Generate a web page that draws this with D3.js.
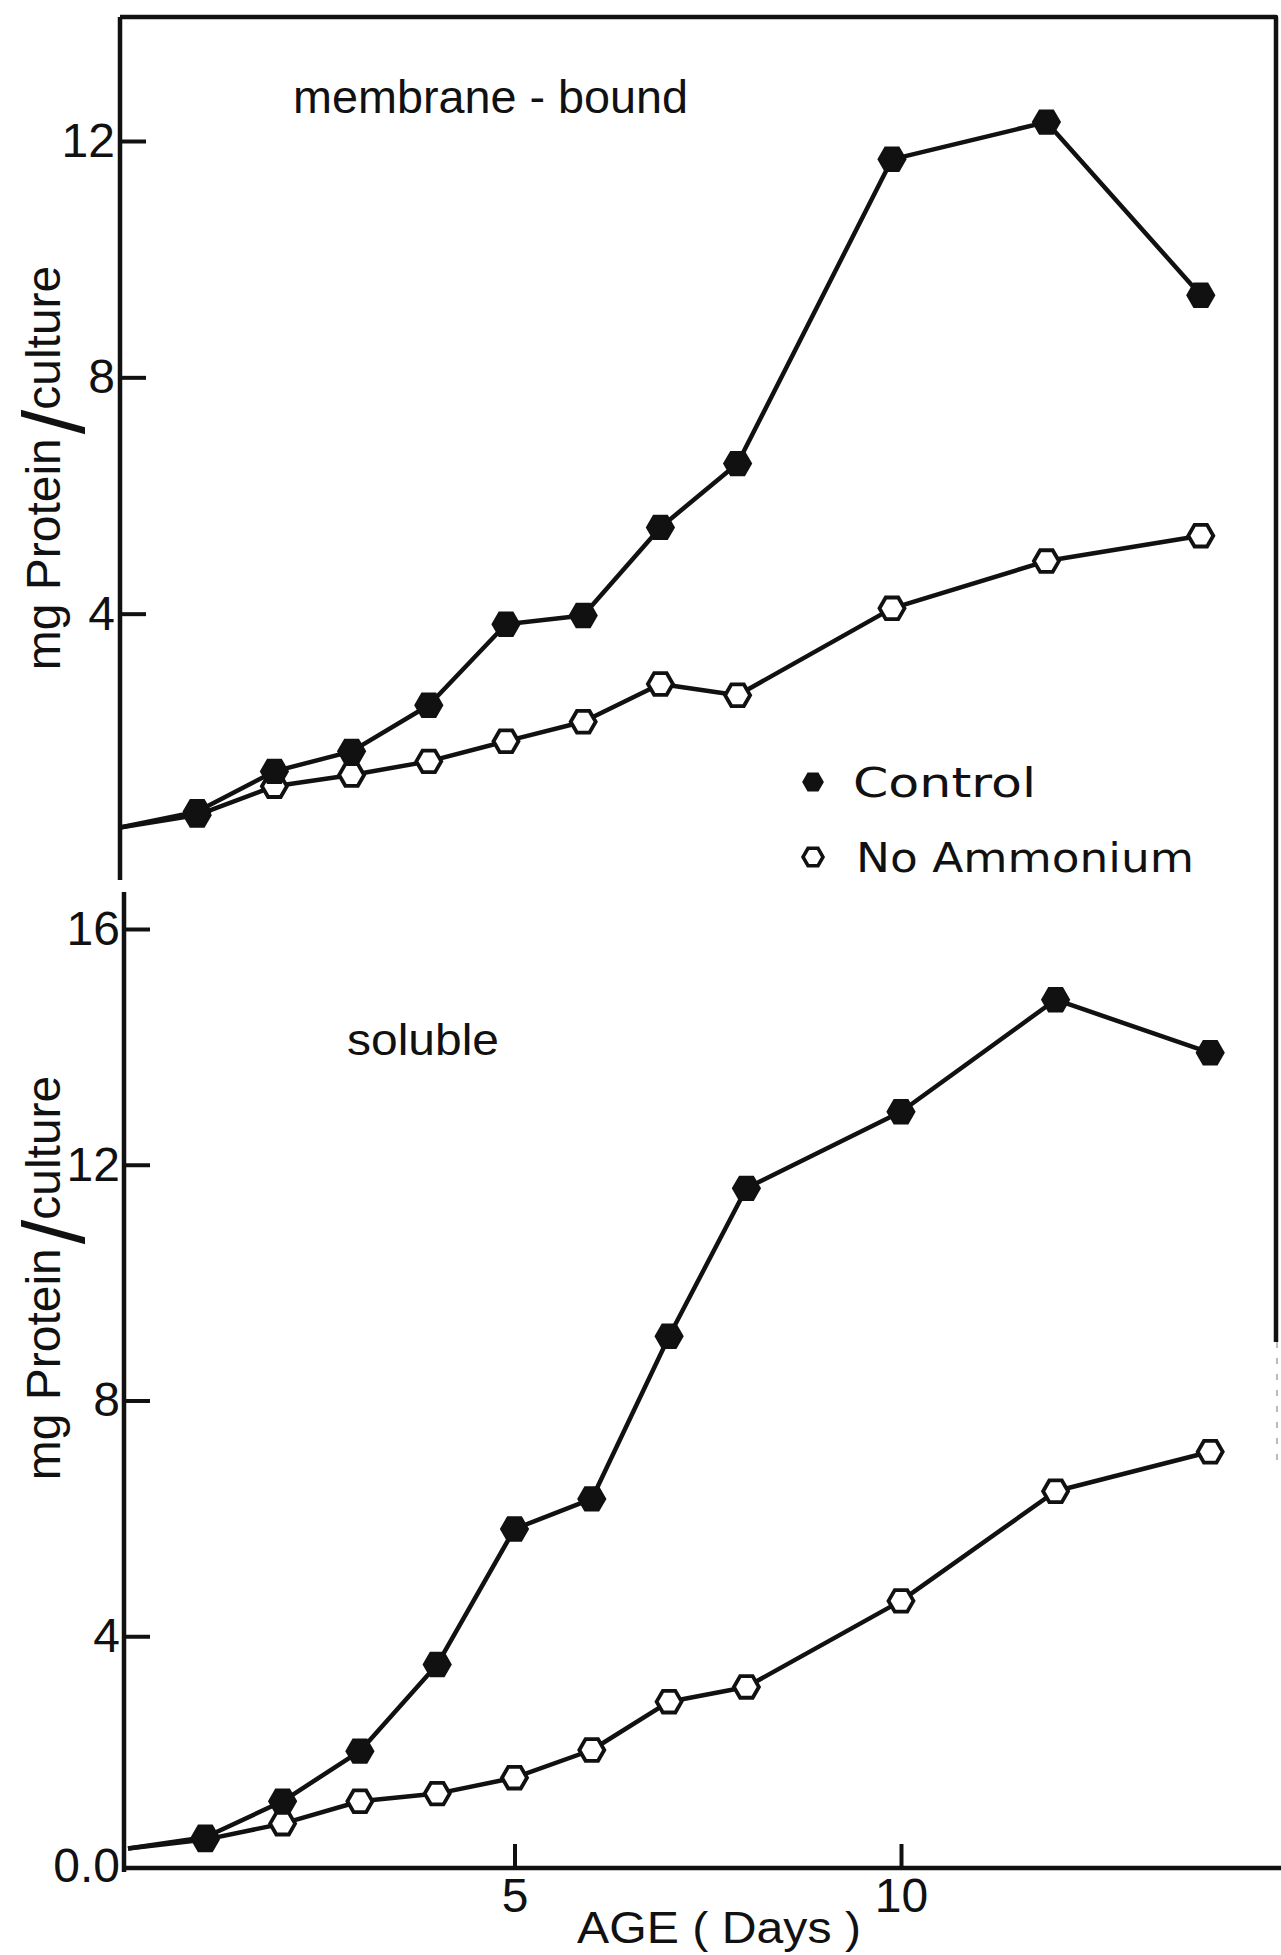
<!DOCTYPE html>
<html>
<head>
<meta charset="utf-8">
<script src="https://cdn.jsdelivr.net/npm/d3@7"></script>
<style>
  html, body { margin: 0; padding: 0; background: #fff; }
  svg { display: block; }
  .tick text { font-family: "Liberation Sans Narrow", "Liberation Sans", Arial, sans-serif; font-size: 48px; fill: #111; }
</style>
</head>
<body>
<div id="chart"></div>
<script>
// Ages (days) with a measured point
const days = [1, 2, 3, 4, 5, 6, 7, 8, 10, 12, 14];

// membrane-bound protein (mg / culture)
const membraneStart = 0.38;
const membraneControl = [0.65, 1.33, 1.67, 2.45, 3.82, 3.97, 5.46, 6.54, 11.69, 12.32, 9.39];
const membraneNoAmmonium = [0.59, 1.08, 1.27, 1.50, 1.84, 2.17, 2.81, 2.62, 4.09, 4.89, 5.32];

// soluble protein (mg / culture)
const solubleStart = 0.40;
const solubleControl = [0.59, 1.20, 2.05, 3.52, 5.82, 6.33, 9.09, 11.6, 12.9, 14.8, 13.9];
const solubleNoAmmonium = [0.55, 0.82, 1.20, 1.33, 1.60, 2.07, 2.89, 3.14, 4.60, 6.46, 7.13];

// tick labels
const topTicks = [4, 8, 12];
const bottomTicks = [0, 4, 8, 12, 16];
const xTicks = [5, 10];
const legendLabels = ["Control", "No Ammonium"];

const width = 1281, height = 1955;
const ink = "#111";

const svg = d3.select("#chart").append("svg")
    .attr("width", width)
    .attr("height", height);

// hexagon marker, flat top and bottom
const hexagon = {
    draw(context, size) {
        const r = Math.sqrt(size / (1.5 * Math.sqrt(3)));
        for (let i = 0; i < 6; i++) {
            const a = i * Math.PI / 3;
            if (i === 0) context.moveTo(r * Math.cos(a), r * Math.sin(a));
            else context.lineTo(r * Math.cos(a), r * Math.sin(a));
        }
        context.closePath();
    }
};
const hexSize = r => 1.5 * Math.sqrt(3) * r * r;

// scales for each panel
const xTop = d3.scaleLinear().domain([0, 15]).range([120, 120 + 15 * 77.2]);
const yTop = d3.scaleLinear().domain([0, 12]).range([850, 141]);
const xBot = d3.scaleLinear().domain([0, 15]).range([128, 128 + 15 * 77.3]);
const yBot = d3.scaleLinear().domain([0, 16]).range([1872, 929]);

function styleAxis(g) {
    g.select(".domain").attr("stroke", ink).attr("stroke-width", 4.5);
    g.selectAll(".tick line").attr("stroke", ink).attr("stroke-width", 4);
}

// top panel left axis (runs from frame top down to panel gap)
svg.append("g")
    .attr("transform", `translate(${xTop(0)},0)`)
    .call(d3.axisLeft(yTop).tickValues(topTicks).tickSizeInner(-26).tickSizeOuter(0).tickPadding(5))
    .call(g => g.select(".domain").attr("d", `M0,${17}V${880}`))
    .call(styleAxis);

// bottom panel left axis
svg.append("g")
    .attr("transform", `translate(${xBot(0) - 4},0)`)
    .call(d3.axisLeft(yBot).tickValues(bottomTicks)
        .tickFormat(d => d === 0 ? "0.0" : d)
        .tickSizeInner(-26).tickSizeOuter(0).tickPadding(4))
    .call(g => g.select(".domain").attr("d", `M0,${892}V${yBot(0)}`))
    .call(g => g.selectAll(".tick").filter(d => d === 0).select("line").remove())
    .call(g => g.selectAll(".tick").filter(d => d === 0).select("text").attr("dy", "0.2em"))
    .call(styleAxis);

// bottom x axis
svg.append("g")
    .attr("transform", `translate(0,${yBot(0) - 4})`)
    .call(d3.axisBottom(xBot).tickValues(xTicks).tickSizeInner(-24).tickSizeOuter(0).tickPadding(10))
    .call(g => g.select(".domain").attr("d", `M${xBot(0) - 4},0H${width}`))
    .call(styleAxis);

// frame: top line and right side line
svg.append("path")
    .attr("d", `M${xTop(0)},17H1276V1342`)
    .attr("fill", "none")
    .attr("stroke", ink)
    .attr("stroke-width", 4.5)
    .attr("stroke-linejoin", "round");
svg.append("path")
    .attr("d", "M1277,1342V1460")
    .attr("stroke", "#bbb")
    .attr("stroke-width", 2)
    .attr("stroke-dasharray", "6 10");

// draw one series: line from the axis start value, then hexagon markers
function drawSeries(xs, ys, start, values, filled) {
    const pts = [[0, start]].concat(days.map((d, i) => [d, values[i]]));
    const line = d3.line().x(d => xs(d[0])).y(d => ys(d[1]));

    svg.append("path")
        .datum(pts)
        .attr("fill", "none")
        .attr("stroke", ink)
        .attr("stroke-width", 4.5)
        .attr("stroke-linejoin", "round")
        .attr("d", line);

    svg.append("g")
        .selectAll("path")
        .data(days.map((d, i) => [d, values[i]]))
        .join("path")
        .attr("transform", d => `translate(${xs(d[0])},${ys(d[1])})`)
        .attr("d", d3.symbol(hexagon, hexSize(filled ? 13.5 : 12.5))())
        .attr("fill", filled ? ink : "#fff")
        .attr("stroke", ink)
        .attr("stroke-width", filled ? 2 : 3.8);
}

// open series first so filled markers sit on top
drawSeries(xTop, yTop, membraneStart, membraneNoAmmonium, false);
drawSeries(xTop, yTop, membraneStart, membraneControl, true);
drawSeries(xBot, yBot, solubleStart, solubleNoAmmonium, false);
drawSeries(xBot, yBot, solubleStart, solubleControl, true);

// panel labels
svg.append("text")
    .attr("x", 293).attr("y", 113)
    .attr("textLength", 395).attr("lengthAdjust", "spacingAndGlyphs")
    .style("font-family", "Liberation Sans, Arial, sans-serif")
    .style("font-size", "46px")
    .attr("fill", ink)
    .text("membrane - bound");

svg.append("text")
    .attr("x", 347).attr("y", 1055)
    .attr("textLength", 152).attr("lengthAdjust", "spacingAndGlyphs")
    .style("font-family", "Liberation Sans, Arial, sans-serif")
    .style("font-size", "45px")
    .attr("fill", ink)
    .text("soluble");

// y axis titles with the large slash
function yTitle(cy) {
    const t = svg.append("text")
        .attr("transform", `translate(60,${cy}) rotate(-90)`)
        .attr("text-anchor", "middle")
        .style("font-family", "Liberation Sans, Arial, sans-serif")
        .style("font-size", "48px")
        .attr("fill", ink);
    t.append("tspan").text("mg Protein");
    t.append("tspan").attr("dx", 4).attr("dy", 24).style("font-size", "88px").text("/");
    t.append("tspan").attr("dy", -24).text("culture");
}
yTitle(468);
yTitle(1278);

// x axis title
svg.append("text")
    .attr("x", 719).attr("y", 1943)
    .attr("text-anchor", "middle")
    .attr("textLength", 284).attr("lengthAdjust", "spacingAndGlyphs")
    .style("font-family", "Liberation Sans, Arial, sans-serif")
    .style("font-size", "45px")
    .attr("fill", ink)
    .text("AGE ( Days )");

// legend
const legend = svg.append("g");
legendLabels.forEach((label, i) => {
    const cy = 782 + i * 75;
    legend.append("path")
        .attr("transform", `translate(813,${cy})`)
        .attr("d", d3.symbol(hexagon, hexSize(10))())
        .attr("fill", i === 0 ? ink : "#fff")
        .attr("stroke", ink)
        .attr("stroke-width", i === 0 ? 1.5 : 3.5);
    legend.append("text")
        .attr("x", 853 + i * 3).attr("y", cy + 15)
        .attr("textLength", i === 0 ? 183 : 338).attr("lengthAdjust", "spacingAndGlyphs")
        .style("font-family", "DejaVu Sans, sans-serif")
        .style("font-size", "41px")
        .attr("fill", ink)
        .text(label);
});
</script>
</body>
</html>
